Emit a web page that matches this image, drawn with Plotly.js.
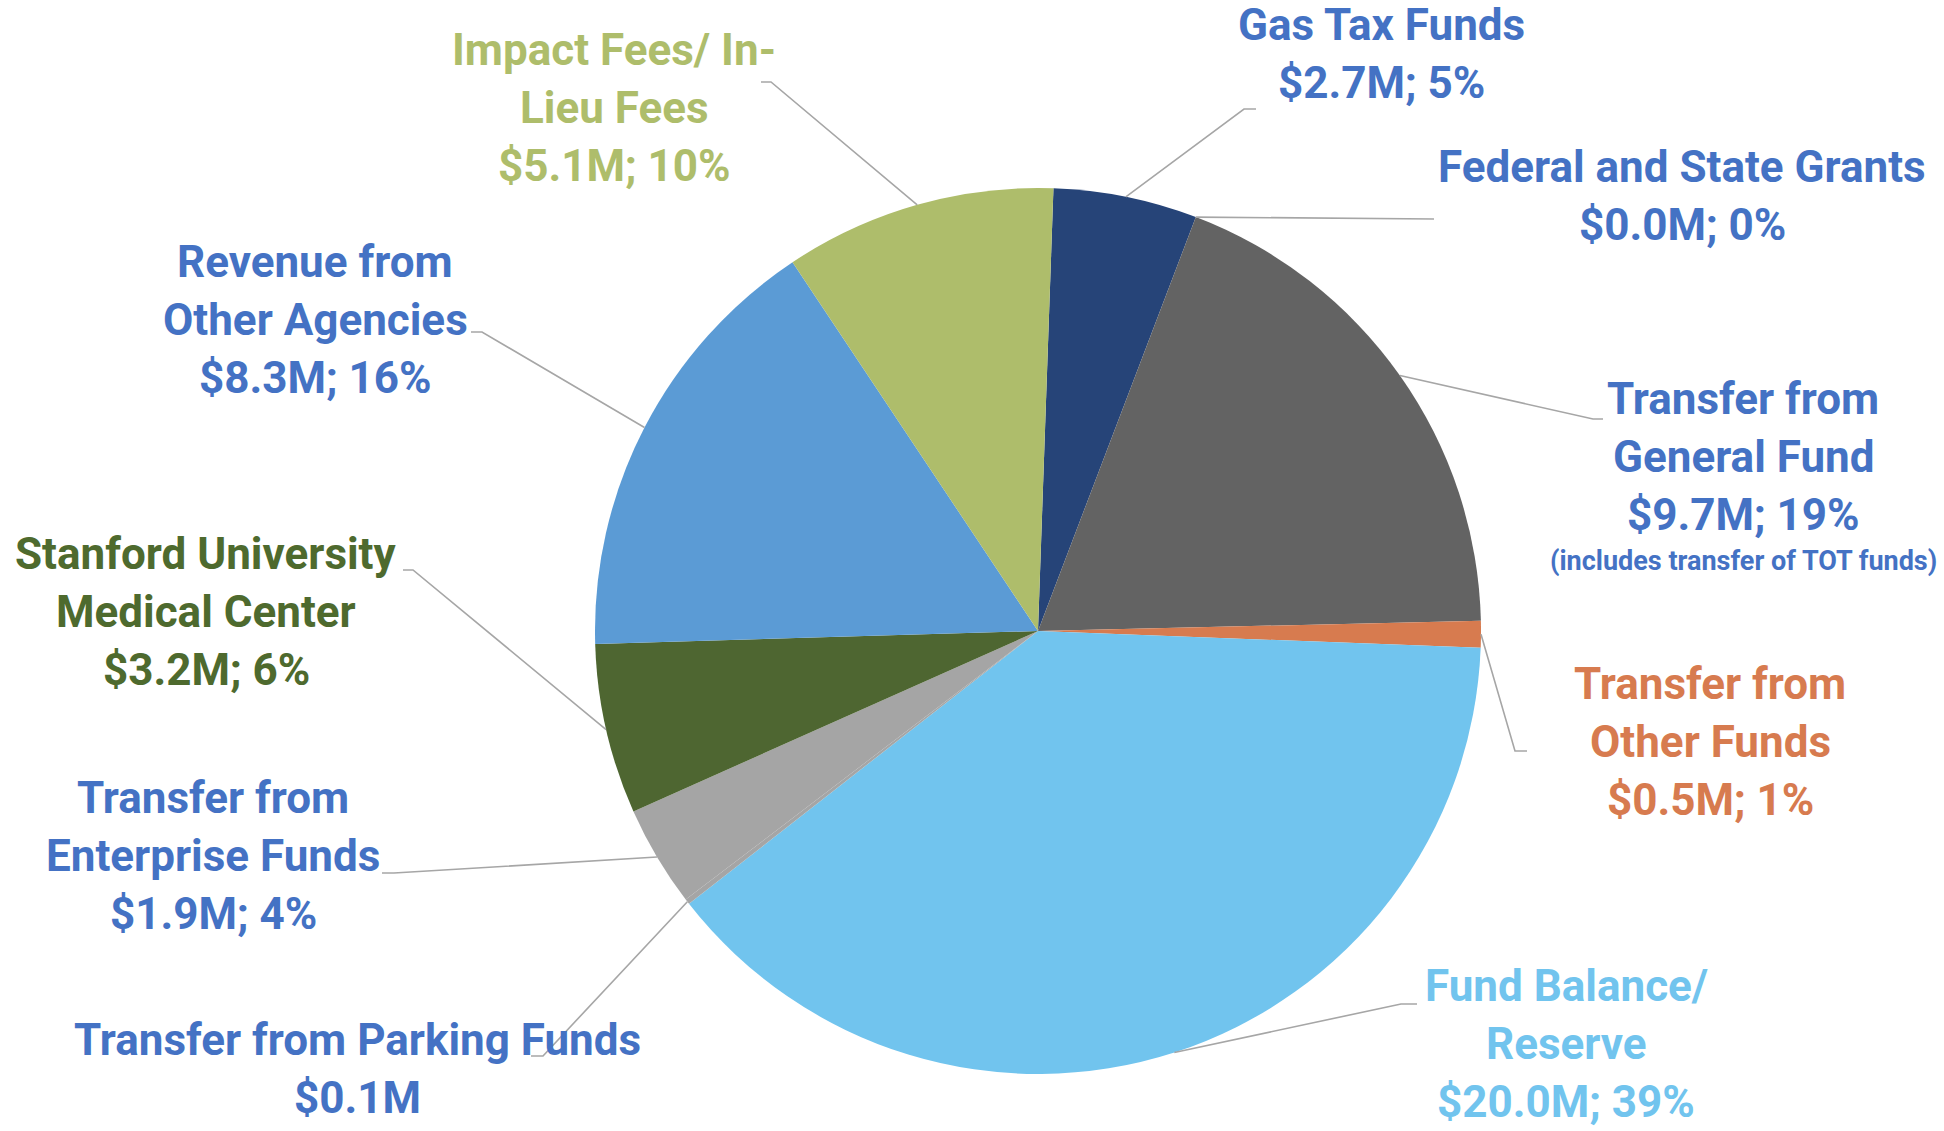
<!DOCTYPE html>
<html><head><meta charset="utf-8">
<script src="https://cdn.plot.ly/plotly-3.0.1.min.js"></script>
<style>html,body{margin:0;padding:0;background:#fff}#chart{width:1944px;height:1131px}</style>
</head><body><div id="chart"></div>
<script>
// ---- data ----
const categories = ["Gas Tax Funds","Federal and State Grants","Transfer from General Fund","Transfer from Other Funds","Fund Balance/ Reserve","Transfer from Parking Funds","Transfer from Enterprise Funds","Stanford University Medical Center","Revenue from Other Agencies","Impact Fees/ In-Lieu Fees"];
const valuesM = [2.7, 0.0, 9.7, 0.5, 20.0, 0.1, 1.9, 3.2, 8.3, 5.1];
const labelLines = [
  ["Gas Tax Funds"],
  ["Federal and State Grants"],
  ["Transfer from","General Fund"],
  ["Transfer from","Other Funds"],
  ["Fund Balance/","Reserve"],
  ["Transfer from Parking Funds"],
  ["Transfer from","Enterprise Funds"],
  ["Stanford University","Medical Center"],
  ["Revenue from","Other Agencies"],
  ["Impact Fees/ In-","Lieu Fees"]
];
const showPercent = [true,true,true,true,true,false,true,true,true,true];
const notes = ["","","(includes transfer of TOT funds)","","","","","","",""];

// ---- styles / layout ----
const sliceColors = ["#264478","#4472C4","#636363","#D77B4F","#71C4EE","#A5A5A5","#A5A5A5","#4E6631","#5B9BD5","#AEBD6B"];
const textColors  = ["#4472C4","#4472C4","#4472C4","#D77B4F","#71C4EE","#4472C4","#4472C4","#4E6A2E","#4472C4","#AEBD6B"];
// label placement in pixels: center x, first line center y, leader elbow points
const labelPos = [
  {cx:1381, y0:25,  elbow:[[1244,109],[1256,109]]},
  {cx:1682, y0:167, elbow:[[1434,219]]},
  {cx:1743, y0:399, elbow:[[1593,419],[1603,419]], noteY:561},
  {cx:1710, y0:684, elbow:[[1515,751],[1527,751]]},
  {cx:1566, y0:986, elbow:[[1401,1004],[1417,1004]]},
  {cx:357,  y0:1040,elbow:[[543,1056],[531,1056]]},
  {cx:213,  y0:798, elbow:[[394,873],[382,873]]},
  {cx:206,  y0:554, elbow:[[413,570],[403,570]]},
  {cx:315,  y0:262, elbow:[[482,332],[471,332]]},
  {cx:614,  y0:50,  elbow:[[771,82],[761,82]]}
];
const W = 1944, H = 1131;
const pieCx = 1038, pieCy = 631, pieR = 443;
const rotationDeg = 2;
const lineGap = 58;
const fontFam = "Roboto, 'Open Sans', sans-serif";
const fontSize = 44;
const noteSize = 27;

const px = x => x / W;
const py = y => 1 - y / H;

const total = valuesM.reduce((a,b)=>a+b,0);
const annotations = [];
const shapes = [];
let acc = 0;
valuesM.forEach((v,i)=>{
  const midDeg = rotationDeg + (acc + v/2) / total * 360;
  acc += v;
  const a = midDeg * Math.PI/180;
  const ex = pieCx + pieR * Math.sin(a);
  const ey = pieCy - pieR * Math.cos(a);
  const L = labelPos[i];
  let path = `M ${px(ex)},${py(ey)}`;
  L.elbow.forEach(p=>{ path += ` L ${px(p[0])},${py(p[1])}`; });
  shapes.push({type:'path', xref:'paper', yref:'paper', path, line:{color:'#A6A6A6', width:1.6}});
  const valText = '$' + v.toFixed(1) + 'M' + (showPercent[i] ? '; ' + Math.round(v/total*100) + '%' : '');
  const lines = labelLines[i].concat([valText]);
  lines.forEach((t,k)=>{
    annotations.push({xref:'paper', yref:'paper', x:px(L.cx), y:py(L.y0 + k*lineGap),
      xanchor:'center', yanchor:'middle', showarrow:false, text:'<b>'+t+'</b>',
      font:{family:fontFam, size:fontSize, color:textColors[i]}});
  });
  if (notes[i]) {
    annotations.push({xref:'paper', yref:'paper', x:px(L.cx), y:py(L.noteY),
      xanchor:'center', yanchor:'middle', showarrow:false, text:'<b>'+notes[i]+'</b>',
      font:{family:fontFam, size:noteSize, color:textColors[i]}});
  }
});

const trace = {
  type:'pie', labels:categories, values:valuesM, sort:false, direction:'clockwise',
  rotation:rotationDeg, textinfo:'none', hoverinfo:'label+value+percent',
  marker:{colors:sliceColors, line:{width:0}},
  domain:{x:[px(pieCx-pieR), px(pieCx+pieR)], y:[py(pieCy+pieR), py(pieCy-pieR)]}
};
const layout = {width:W, height:H, margin:{l:0,r:0,t:0,b:0}, showlegend:false,
  paper_bgcolor:'#fff', plot_bgcolor:'#fff', annotations, shapes};
Plotly.newPlot('chart',[trace],layout,{displayModeBar:false, staticPlot:true});
</script></body></html>
